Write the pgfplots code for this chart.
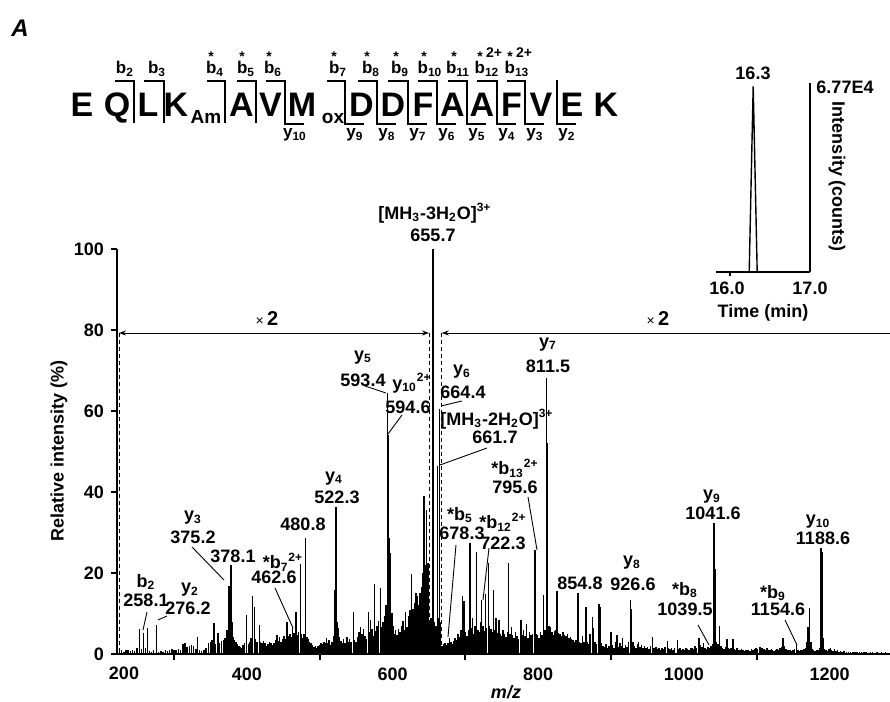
\documentclass[border=0pt]{standalone}
\usepackage{fontspec}
\setmainfont{Liberation Sans}
\usepackage{pgfplots}
\pgfplotsset{compat=1.18}
\usetikzlibrary{arrows.meta}
\begin{document}
\begin{tikzpicture}[x=0.5pt,y=0.5pt,
  lab/.style={font=\fontsize{9}{10}\selectfont\bfseries, inner sep=0pt},
  seq/.style={font=\fontsize{17}{17}\selectfont\bfseries, inner sep=0pt, anchor=base},
  sub/.style={font=\fontsize{9.5}{10}\selectfont\bfseries, inner sep=0pt, anchor=base},
  bl/.style={font=\fontsize{8.5}{9}\selectfont\bfseries, inner sep=0pt, anchor=base},
  st/.style={font=\fontsize{7}{7}\selectfont\bfseries, inner sep=0pt, anchor=base},
  br/.style={line width=0.7pt},
  pt/.style={line width=0.45pt}]
\path[use as bounding box] (0,0) rectangle (890,702);

% ---------------- main spectrum ----------------
\begin{axis}[
  at={(58.5pt,24pt)}, anchor=south west, scale only axis,
  width=386.5pt, height=202.5pt,
  xmin=221.7, xmax=1283, ymin=0, ymax=100,
  axis x line=bottom, axis y line=left,
  axis line style={-, line width=1pt},
  tick align=outside, tick style={black, line width=1pt},
  major tick length=3pt,
  ytick={0,20,40,60,80,100},
  xtick={300,500,700,900,1100}, xticklabels={},
  extra x ticks={400,600,800,1000,1200},
  extra x tick labels={400,600,800,1000,1200},
  extra x tick style={major tick length=0pt, tick label style={yshift=-3.5pt}},
  tick label style={font=\fontsize{9}{10}\selectfont\bfseries},
  /pgf/number format/assume math mode=true,
]
\addplot[ycomb, black, line width=0.75pt, mark=none] table {
x y
222 1.2
225 0.8
228 1.0
231 0.6
234 0.9
237 1.1
240 0.7
243 1.0
246 0.8
249 1.4
252.4 6.1
255 1.2
258.1 5.1
260.5 1.5
263.4 6.4
266 0.8
269 0.6
272 0.9
276.2 7.2
279 0.5
282 0.7
285 0.6
288 0.9
291 0.8
294 1.0
297 1.2
300 1.1
303 0.9
306 1.3
309 1.0
312 2.4
315 2.6
318 1.8
321 2.0
324 2.3
327 1.9
330 1.2
332 4.1
335 1.0
338 0.8
341 1.0
344 1.5
347 2.6
350 3.0
352 3.4
354.9 7.7
357 2.5
360.4 5.1
362 2.8
365 3.2
367.7 3.5
370 4.0
372.5 6.0
375.2 16.9
376.5 10.0
378.1 22.0
379.5 8.0
381.4 4.3
383 3.5
385 3.0
387 2.4
389 2.0
391 1.8
393 1.6
395 2.2
397 2.6
399.8 9.6
402 2.5
404 3.0
406 4.0
407.6 14.2
410.3 11.7
412 3.6
414 2.9
417.1 7.2
419 3.0
421 2.6
423 3.3
425 2.8
427 2.0
429 2.4
431 3.0
433 2.6
435 2.2
437 2.8
439 3.4
441.6 4.7
443 3.2
445 4.3
447 3.0
449 3.8
451 4.5
453 3.6
455.3 8.0
457 4.4
459 5.0
461 4.2
462.6 6.5
464.5 5.2
467.2 10.4
469 4.8
471 5.5
473.6 22.2
475 5.0
477 4.0
478.5 5.0
480.8 28.7
482.5 4.3
484 3.8
486 3.0
488 2.6
490 2.2
492 1.8
494 2.0
496 1.6
498 2.0
500 2.2
502 2.6
504 2.4
506 3.0
508 2.8
509.6 3.9
511 2.6
513 3.4
515 2.2
517 3.0
519 4.5
520.5 15.8
522.3 36.4
523.5 8.0
525 6.5
527 4.2
529 3.2
531 2.6
533 3.8
535 2.8
537.3 4.3
539 3.0
541 3.6
543 2.9
546.4 10.4
548 3.5
550 3.0
552 4.2
554 5.5
556 6.6
558 5.0
560 6.2
562 4.5
564 3.8
566.8 10.4
568 5.5
570 8.3
572 6.2
573.5 4.5
575.4 17.3
577 5.8
579 7.0
581 8.2
583.2 16.3
585 6.6
587 8.0
589 9.5
591 12.0
593.4 64.5
594.6 54.0
596 28.6
597.5 24.9
599 10.0
600.5 7.0
602 5.0
604 6.0
606 4.8
608 6.2
610 5.5
612 6.8
614.5 8.2
616 6.0
618 10.4
620 6.6
622 9.5
624 10.8
626.3 19.8
628 11.0
630 12.5
632.2 15.1
634 14.3
636 12.0
638 15.0
640 16.5
641.5 20.0
643.2 39.0
645 22.0
646.9 35.6
648.5 22.4
650 8.0
651.5 7.0
653 9.0
654.5 8.0
655.7 100
657 8.0
658.5 6.0
660 7.0
661.7 46.3
663 9.0
664.4 60.5
665.5 8.0
668 2.0
670 2.5
672 2.8
674 2.2
676 2.6
678.3 3.9
680 3.0
682 2.4
684 3.2
686 4.0
688 3.5
690 5.0
692 4.2
694 6.0
696.3 14.2
698 13.0
700 5.5
702 4.5
704 6.0
706.3 27.3
708 6.5
710 9.0
712 5.0
713.5 7.0
715.4 25.3
717 6.0
719 5.5
720.5 8.0
722.3 13.3
724 7.0
725.5 5.8
727.6 14.9
729 6.5
731.8 22.4
733 7.0
735 6.2
736.5 5.5
738.7 15.8
740 6.0
742 8.9
744 5.2
746 8.4
748 5.0
750 4.5
752 6.0
754 5.0
756 4.2
757.5 5.5
759.3 22.5
761 5.0
763 6.6
765 4.8
767 4.0
769 5.4
771 4.5
773 3.8
776.3 8.4
778 4.6
780 6.0
782 4.5
784 7.5
786 4.0
788 5.5
790 4.8
792 5.0
795.6 25.7
797 5.0
799 4.6
801 4.0
803 5.5
805 4.8
807 14.5
809 6.0
811.5 68.1
813 52.2
815 7.0
817 6.6
819 5.5
821 4.8
823 5.8
824.5 6.0
826.1 15.6
828 5.2
830 5.0
832 4.5
834 5.5
836 4.8
838 4.5
840 5.0
842 4.0
844 4.2
846 3.6
848 3.5
850 3.0
852 3.4
854.8 15.0
857 3.0
859 2.6
861 4.5
863 3.0
865.4 11.5
867 3.0
869 2.4
871 5.0
874.5 9.2
876 6.5
878 3.0
880 2.5
883.7 12.3
885 11.6
887 2.8
889 2.0
891 1.8
893 2.4
895 1.6
897 2.0
900.1 5.5
902 2.2
904 1.6
906 3.0
908 4.7
910 1.8
912 2.6
914 2.0
916 4.0
918 1.6
920 2.2
922 1.8
924 3.0
926.6 13.3
928 11.0
930 3.0
932 2.0
934 1.6
936 2.4
938 3.0
940 1.8
942 2.2
944 1.5
946 2.0
948 1.6
950 1.8
952 1.2
954 2.0
956.6 4.2
958 1.6
960 1.4
962 1.8
964 1.2
966 1.5
968 1.0
970 1.6
972 1.3
974 1.8
977.2 3.2
979 1.4
981 1.2
983 1.6
985 1.0
987 1.4
990.9 3.5
993 1.2
995 1.5
997 1.0
999 1.3
1001 1.1
1003 1.5
1005 1.2
1007 1.0
1009 1.4
1011 1.6
1013 1.2
1015 2.0
1017 1.5
1020.7 4.0
1023 2.2
1025 1.8
1027 2.6
1029 1.4
1031 1.2
1033 1.8
1035 1.5
1037 2.0
1039.5 2.5
1041.6 32.3
1043 21.1
1045 3.0
1047 2.5
1049 6.8
1051 2.0
1053 1.6
1055 1.3
1057 1.8
1059.3 3.7
1061 1.4
1063 1.2
1065 1.6
1067.5 3.8
1069 1.3
1071 1.0
1073 1.4
1075 1.1
1077 0.9
1079 1.2
1081 1.0
1083 0.8
1085 1.1
1087 0.9
1089 1.0
1091 0.8
1093 1.2
1095 1.0
1097 1.3
1099 1.5
1101 1.2
1104.3 1.8
1106 1.4
1108 1.6
1110 1.2
1112 1.0
1114 1.4
1116 1.1
1118 0.9
1120 1.2
1122 1.0
1124 0.8
1126 1.1
1128 1.3
1130 1.0
1132 1.4
1134 1.8
1136.3 3.9
1138 2.0
1140 1.2
1142 1.0
1144 0.9
1146 1.1
1148 0.8
1150 1.0
1152 1.2
1154.6 2.5
1157 1.0
1159 0.8
1161 1.0
1163 0.9
1165 1.2
1167 1.6
1169 3.0
1170.5 6.7
1172.8 11.3
1174.5 3.0
1176 1.2
1178 1.0
1180 0.8
1182 1.0
1184 0.9
1186 1.5
1188.6 26.1
1190 25.3
1191.5 4.0
1193 1.2
1195 1.0
1197 0.8
1199 1.2
1201 1.5
1203 1.0
1205 0.8
1207 1.3
1209 0.7
1211 0.9
1213 0.6
1215 0.8
1217 0.5
1220 0.7
1223 0.5
1226 0.6
1229 0.4
1232 0.6
1235 0.5
1238 0.4
1241 0.5
1244 0.4
1247 0.6
1250 0.5
1253 0.3
1256 0.5
1259 0.4
1262 0.3
1265 0.4
1268 0.3
1271 0.5
1274 0.3
1277 0.4
1280 0.3
};
\end{axis}

% "200" label at axis start, axis titles
\node[lab] at (124,29) {200};
\node[lab, rotate=90] at (59,251) {Relative intensity (\%)};
\node[lab] at (506,10) {\itshape m/z};

% x2 regions
\draw[line width=0.45pt, dash pattern=on 2pt off 1.5pt] (119,369) -- (119,48);
\draw[line width=0.45pt, dash pattern=on 2pt off 1.5pt] (429,369) -- (429,48);
\draw[line width=0.45pt, dash pattern=on 2pt off 1.5pt] (441.7,369) -- (441.7,48);
\draw[line width=0.45pt, {Stealth[length=3.5pt,width=2.5pt]}-{Stealth[length=3.5pt,width=2.5pt]}] (119,369) -- (429,369);
\draw[line width=0.45pt, {Stealth[length=3.5pt,width=2.5pt]}-] (441.7,369) -- (890,369);
\node[inner sep=0pt] at (267,383) {{\fontsize{7}{7}\selectfont ×}\,{\fontsize{10}{10}\selectfont\bfseries 2}};
\node[inner sep=0pt] at (658,383) {{\fontsize{7}{7}\selectfont ×}\,{\fontsize{10}{10}\selectfont\bfseries 2}};

% peak annotations
\node[lab] at (435,489) {[MH\textsubscript{3}-3H\textsubscript{2}O]\textsuperscript{3+}};
\node[lab] at (433,467) {655.7};
\node[lab] at (363,344) {y\textsubscript{5}};
\node[lab] at (363,322) {593.4};
\draw[pt] (365,316) -- (386,309);
\node[lab] at (412,319) {y\textsubscript{10}\textsuperscript{2+}};
\node[lab] at (408,295) {594.6};
\draw[pt] (402,287) -- (388,268);
\node[lab] at (462,330) {y\textsubscript{6}};
\node[lab] at (463,310) {664.4};
\draw[pt] (462,301) -- (441,296);
\node[lab] at (497,283) {[MH\textsubscript{3}-2H\textsubscript{2}O]\textsuperscript{3+}};
\node[lab] at (495,265) {661.7};
\draw[pt] (487,254) -- (440,237);
\node[lab] at (548,357) {y\textsubscript{7}};
\node[lab] at (548,336) {811.5};
\node[lab] at (334,223) {y\textsubscript{4}};
\node[lab] at (337,205) {522.3};
\node[lab] at (303,178) {480.8};
\node[lab] at (193,184) {y\textsubscript{3}};
\node[lab] at (193,165) {375.2};
\draw[pt] (192,155) -- (224,122);
\node[lab] at (233,146) {378.1};
\node[lab] at (283,140) {*b\textsubscript{7}\textsuperscript{2+}};
\node[lab] at (274,125) {462.6};
\draw[pt] (275,114) -- (293,74);
\node[lab] at (146,120) {b\textsubscript{2}};
\node[lab] at (146,102) {258.1};
\draw[pt] (147,90) -- (143,72);
\node[lab] at (190,112) {y\textsubscript{2}};
\node[lab] at (188,94) {276.2};
\draw[pt] (167,86) -- (158,82);
\node[lab] at (460,187) {*b\textsubscript{5}};
\node[lab] at (462,169) {678.3};
\draw[pt] (456,157) -- (448,65);
\node[lab] at (503,180) {*b\textsubscript{12}\textsuperscript{2+}};
\node[lab] at (503,159) {722.3};
\draw[pt] (489,154) -- (483,102);
\node[lab] at (515,234) {*b\textsubscript{13}\textsuperscript{2+}};
\node[lab] at (515,215) {795.6};
\draw[pt] (528,205) -- (537,152);
\node[lab] at (580,119) {854.8};
\node[lab] at (632,139) {y\textsubscript{8}};
\node[lab] at (633,118) {926.6};
\node[lab] at (685,112) {*b\textsubscript{8}};
\node[lab] at (685,93) {1039.5};
\draw[pt] (698,77) -- (709,57);
\node[lab] at (712,205) {y\textsubscript{9}};
\node[lab] at (713,189) {1041.6};
\node[lab] at (773,109) {*b\textsubscript{9}};
\node[lab] at (778,93) {1154.6};
\draw[pt] (785,82) -- (797,57);
\node[lab] at (818,180) {y\textsubscript{10}};
\node[lab] at (823,164) {1188.6};

% ---------------- inset chromatogram ----------------
\begin{axis}[
  at={(358pt,215pt)}, anchor=south west, scale only axis,
  width=47pt, height=94.5pt,
  xmin=15.825, xmax=17.0, ymin=0, ymax=67700,
  axis x line=bottom, axis y line=right,
  axis line style={-, line width=1pt},
  tick align=outside, tick style={black, line width=1pt},
  major tick length=2pt,
  xtick={16}, xticklabels={}, ytick=\empty,
]
\addplot[black, line width=0.7pt, mark=none] coordinates {(15.825,0) (16.24,0) (16.29,66500) (16.34,0) (17.0,0)};
\end{axis}
\node[lab] at (727,414) {16.0};
\node[lab] at (810,414) {17.0};
\node[lab] at (763,389) {Time (min)};
\node[lab] at (753,629) {16.3};
\node[lab] at (845,615) {6.77E4};
\node[lab, rotate=-90] at (837,525) {Intensity (counts)};

% panel letter
\node[inner sep=0pt, font=\fontsize{12}{12}\selectfont\bfseries\itshape] at (20,674) {A};

% ---------------- peptide sequence ----------------
\begin{scope}[yshift=14pt]
\node[seq] at (82,557) {E};
\node[seq] at (117,557) {Q};
\node[seq] at (148,557) {L};
\node[seq] at (176,557) {K};
\node[sub] at (206,550) {Am};
\node[seq] at (241.5,557) {A};
\node[seq] at (270.5,557) {V};
\node[seq] at (302,557) {M};
\node[sub] at (333,550) {ox};
\node[seq] at (361.5,557) {D};
\node[seq] at (393,557) {D};
\node[seq] at (423,557) {F};
\node[seq] at (452.5,557) {A};
\node[seq] at (482,557) {A};
\node[seq] at (511.5,557) {F};
\node[seq] at (541,557) {V};
\node[seq] at (572,557) {E};
\node[seq] at (606,557) {K};

% b-only cleavages
\draw[br] (115,593) -- (134,593) -- (134,551);
\draw[br] (144,593) -- (164,593) -- (164,551);
\draw[br] (207,593) -- (225,593) -- (225,551);
\draw[br] (237,593) -- (256,593) -- (256,551);
% b and y cleavages
\draw[br] (266,593) -- (285,593) -- (285,550) -- (304,550);
\draw[br] (327,593) -- (345,593) -- (345,550) -- (364,550);
\draw[br] (358,593) -- (377,593) -- (377,550) -- (396,550);
\draw[br] (388,593) -- (408,593) -- (408,550) -- (427,550);
\draw[br] (418,593) -- (437,593) -- (437,550) -- (456,550);
\draw[br] (448,593) -- (467,593) -- (467,550) -- (486,550);
\draw[br] (477,593) -- (497,593) -- (497,550) -- (516,550);
\draw[br] (507,593) -- (525,593) -- (525,550) -- (544,550);
% y-only cleavage
\draw[br] (557,594) -- (557,550) -- (576,550);

% b labels
\node[bl] at (125,600) {b\textsubscript{2}};
\node[bl] at (157,600) {b\textsubscript{3}};
\node[bl] at (215,600) {b\textsubscript{4}};
\node[bl] at (246,600) {b\textsubscript{5}};
\node[bl] at (273,600) {b\textsubscript{6}};
\node[bl] at (338,600) {b\textsubscript{7}};
\node[bl] at (371,600) {b\textsubscript{8}};
\node[bl] at (400,600) {b\textsubscript{9}};
\node[bl] at (430,600) {b\textsubscript{10}};
\node[bl] at (458,600) {b\textsubscript{11}};
\node[bl] at (487,600) {b\textsubscript{12}};
\node[bl] at (517,600) {b\textsubscript{13}};
% stars
\foreach \sx in {211,242,269,334,367,396,424,454,480,510} {\node[st] at (\sx,612) {*};}
\node[st] at (494,616) {2+};
\node[st] at (524,616) {2+};
% y labels
\node[bl] at (295,536) {y\textsubscript{10}};
\node[bl] at (355,536) {y\textsubscript{9}};
\node[bl] at (387,536) {y\textsubscript{8}};
\node[bl] at (418,536) {y\textsubscript{7}};
\node[bl] at (447,536) {y\textsubscript{6}};
\node[bl] at (477,536) {y\textsubscript{5}};
\node[bl] at (507,536) {y\textsubscript{4}};
\node[bl] at (535,536) {y\textsubscript{3}};
\node[bl] at (567,536) {y\textsubscript{2}};
\end{scope}
\end{tikzpicture}
\end{document}
